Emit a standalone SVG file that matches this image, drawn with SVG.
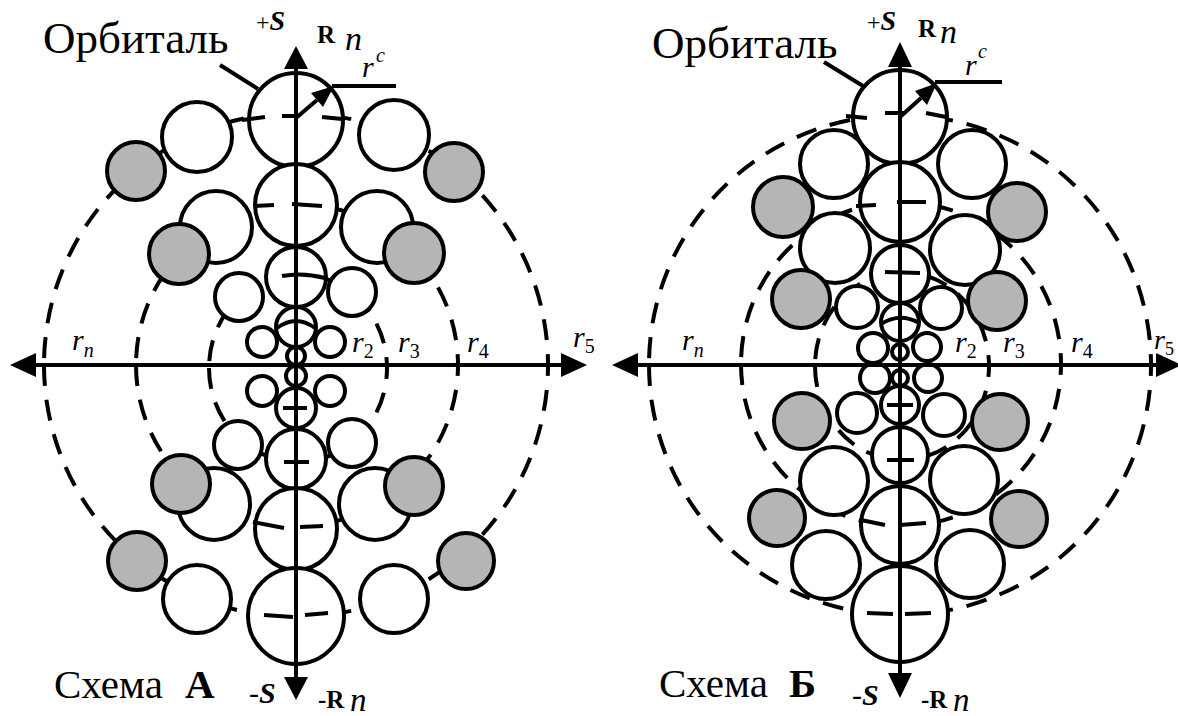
<svg xmlns="http://www.w3.org/2000/svg" width="1178" height="716" viewBox="0 0 1178 716">
<style>
.bg{fill:#fff}
.o{fill:#fff;stroke:#000;stroke-width:4}
.g{fill:#b5b5b5;stroke:#000;stroke-width:4}
.d{fill:none;stroke:#000;stroke-width:4;stroke-dasharray:21 14}
.dc{stroke-dashoffset:10}
.dl{stroke-dashoffset:28}
.eq{fill:none;stroke:#000;stroke-width:4}
.ax{stroke:#000;stroke-width:4;fill:none}
.ah{fill:#000}
.it{font-style:italic}
.b{font-weight:bold}
</style>
<rect class="bg" x="0" y="0" width="1178" height="716"/>

<g id="schemeA">
  <g id="A-orbits">
    <path class="d dc" d="M548,365 A252,252 0 0 0 296,113"/>
    <path class="d dc" d="M548,365 A252,252 0 0 1 296,617"/>
    <path class="d dl" d="M44,365 A252,252 0 0 1 296,113"/>
    <path class="d" d="M44,365 A252,252 0 0 0 296,617"/>
    <path class="d dc" d="M458,365 A161,161 0 0 0 297,204"/>
    <path class="d dc" d="M458,365 A161,161 0 0 1 297,526"/>
    <path class="d dl" d="M136,365 A161,161 0 0 1 297,204"/>
    <path class="d" d="M136,365 A161,161 0 0 0 297,526"/>
    <path class="d dc" d="M387,368 A89,94 0 0 0 298,274"/>
    <path class="d dc" d="M387,368 A89,94 0 0 1 298,462"/>
    <path class="d dl" d="M209,368 A89,94 0 0 1 298,274"/>
    <path class="d" d="M209,368 A89,94 0 0 0 298,462"/>
  </g>
  <g id="A-side-white">
    <circle class="o" cx="197" cy="137" r="35"/><circle class="o" cx="394" cy="135" r="35"/>
    <circle class="o" cx="216" cy="227" r="36"/><circle class="o" cx="377" cy="227" r="36"/>
    <circle class="o" cx="239" cy="297" r="24"/><circle class="o" cx="352" cy="292" r="24"/>
    <circle class="o" cx="262" cy="342" r="15"/><circle class="o" cx="330" cy="342" r="15"/>
    <circle class="o" cx="262" cy="391" r="15"/><circle class="o" cx="330" cy="391" r="15"/>
    <circle class="o" cx="238" cy="445" r="24"/><circle class="o" cx="352" cy="443" r="24"/>
    <circle class="o" cx="214" cy="504" r="36"/><circle class="o" cx="375" cy="504" r="36"/>
    <circle class="o" cx="197" cy="599" r="34"/><circle class="o" cx="394" cy="599" r="34"/>
  </g>
  <g id="A-side-grey">
    <circle class="g" cx="136" cy="171" r="29"/><circle class="g" cx="454" cy="172" r="29"/>
    <circle class="g" cx="179" cy="254" r="30"/><circle class="g" cx="414" cy="253" r="30"/>
    <circle class="g" cx="181" cy="484" r="29"/><circle class="g" cx="414" cy="486" r="29"/>
    <circle class="g" cx="137" cy="561" r="29"/><circle class="g" cx="466" cy="561" r="28"/>
  </g>
  <g id="A-central">
    <circle class="o" cx="296" cy="120" r="47"/>
    <circle class="o" cx="296" cy="205" r="41"/>
    <circle class="o" cx="296" cy="277" r="30"/>
    <circle class="o" cx="296" cy="327" r="20"/>
    <circle class="o" cx="296" cy="356" r="9"/>
    <circle class="o" cx="296" cy="376" r="10"/>
    <circle class="o" cx="296" cy="408" r="20"/>
    <circle class="o" cx="296" cy="459" r="30"/>
    <circle class="o" cx="296" cy="529" r="41"/>
    <circle class="o" cx="296" cy="616" r="48"/>
  </g>
  <g id="A-equators">
    <path class="eq" d="M242,120 L265,117 M282,116 L295,116 M322,117 L342,119"/>
    <path class="eq" d="M254,206 L274,205 M292,204 L322,206"/>
    <path class="eq" d="M282,276 Q303,272 325,278"/>
    <path class="eq" d="M277,328 Q296,314 315,328"/>
    <path class="eq" d="M283,408 L307,408"/>
    <path class="eq" d="M284,462 L309,462"/>
    <path class="eq" d="M253,522 L284,528 M300,527 L323,526"/>
    <path class="eq" d="M264,615 L293,617 M305,615 L328,613"/>
  </g>
  <g id="A-axes">
    <line class="ax" x1="34" y1="365" x2="563" y2="365"/>
    <polygon class="ah" points="10,365 36,353 36,377"/>
    <polygon class="ah" points="587,365 561,353 561,377"/>
    <line class="ax" x1="296" y1="66" x2="296" y2="680"/>
    <polygon class="ah" points="296,46 284,69 308,69"/>
    <polygon class="ah" points="296,700 284,677 308,677"/>
    <line class="ax" x1="296" y1="118" x2="317" y2="100"/>
    <polygon class="ah" points="334,86 323,107 311,93"/>
    <line class="ax" x1="332" y1="86" x2="396" y2="86"/>
    <line class="ax" x1="220" y1="65" x2="258" y2="89"/>
  </g>
  <g id="A-labels" font-family="Liberation Serif, DejaVu Serif, serif" fill="#000">
    <text x="43" y="53" font-size="45">Орбиталь</text>
    <text x="256" y="30" font-size="24">+<tspan class="b it" font-size="28">S</tspan></text>
    <text class="b" x="317" y="43" font-size="25">R</text>
    <text class="it" x="345" y="50" font-size="34">n</text>
    <text class="it" x="362" y="77" font-size="30">r</text>
    <text class="it" x="376" y="62" font-size="20">c</text>
    <text class="it" x="72" y="350" font-size="30">r<tspan font-size="20" dy="7">n</tspan></text>
    <text class="it" x="352" y="352" font-size="30">r<tspan font-style="normal" font-size="20" dy="6">2</tspan></text>
    <text class="it" x="398" y="352" font-size="30">r<tspan font-style="normal" font-size="20" dy="6">3</tspan></text>
    <text class="it" x="467" y="352" font-size="30">r<tspan font-style="normal" font-size="20" dy="6">4</tspan></text>
    <text class="it" x="573" y="347" font-size="30">r<tspan font-style="normal" font-size="20" dy="6">5</tspan></text>
    <text x="54" y="698" font-size="41">Схема <tspan class="b" x="185">А</tspan></text>
    <text x="249" y="703" font-size="30">-<tspan class="b it">S</tspan></text>
    <text class="b" x="318" y="708" font-size="25">-R</text>
    <text class="it" x="350" y="711" font-size="33">n</text>
  </g>
</g>

<g id="schemeB">
  <g id="B-orbits">
    <path class="d dc" d="M1151,365 A251,250 0 0 0 900,115"/>
    <path class="d dc" d="M1151,365 A251,250 0 0 1 900,615"/>
    <path class="d dl" d="M649,365 A251,250 0 0 1 900,115"/>
    <path class="d" d="M649,365 A251,250 0 0 0 900,615"/>
    <path class="d dc" d="M1061,364 A160,162 0 0 0 901,202"/>
    <path class="d dc" d="M1061,364 A160,162 0 0 1 901,526"/>
    <path class="d dl" d="M741,364 A160,162 0 0 1 901,202"/>
    <path class="d" d="M741,364 A160,162 0 0 0 901,526"/>
    <path class="d dc" d="M989,366 A87,94 0 0 0 902,272"/>
    <path class="d dc" d="M989,366 A87,94 0 0 1 902,460"/>
    <path class="d dl" d="M815,366 A87,94 0 0 1 902,272"/>
    <path class="d" d="M815,366 A87,94 0 0 0 902,460"/>
  </g>
  <g id="B-side-white">
    <circle class="o" cx="834" cy="164" r="34"/><circle class="o" cx="972" cy="164" r="34"/>
    <circle class="o" cx="835" cy="248" r="35"/><circle class="o" cx="965" cy="250" r="35"/>
    <circle class="o" cx="857" cy="307" r="21"/><circle class="o" cx="941" cy="308" r="21"/>
    <circle class="o" cx="873" cy="348" r="15"/><circle class="o" cx="927" cy="347" r="14"/>
    <circle class="o" cx="875" cy="378" r="15"/><circle class="o" cx="928" cy="378" r="14"/>
    <circle class="o" cx="857" cy="413" r="20"/><circle class="o" cx="944" cy="415" r="21"/>
    <circle class="o" cx="834" cy="481" r="34"/><circle class="o" cx="964" cy="480" r="34"/>
    <circle class="o" cx="826" cy="565" r="34"/><circle class="o" cx="970" cy="564" r="34"/>
  </g>
  <g id="B-side-grey">
    <circle class="g" cx="783" cy="207" r="30"/><circle class="g" cx="1017" cy="212" r="29"/>
    <circle class="g" cx="801" cy="299" r="29"/><circle class="g" cx="997" cy="301" r="29"/>
    <circle class="g" cx="802" cy="421" r="28"/><circle class="g" cx="1000" cy="422" r="28"/>
    <circle class="g" cx="777" cy="518" r="28"/><circle class="g" cx="1019" cy="519" r="28"/>
  </g>
  <g id="B-central">
    <circle class="o" cx="900" cy="117" r="47"/>
    <circle class="o" cx="900" cy="202" r="40"/>
    <circle class="o" cx="900" cy="274" r="29"/>
    <circle class="o" cx="900" cy="322" r="19"/>
    <circle class="o" cx="900" cy="352" r="8"/>
    <circle class="o" cx="900" cy="378" r="8"/>
    <circle class="o" cx="900" cy="405" r="19"/>
    <circle class="o" cx="900" cy="455" r="28"/>
    <circle class="o" cx="900" cy="525" r="39"/>
    <circle class="o" cx="900" cy="614" r="48"/>
  </g>
  <g id="B-equators">
    <path class="eq" d="M846,116 L867,118 M885,113 L904,113 M926,113 L946,117"/>
    <path class="eq" d="M856,206 L876,205 M897,202 L926,202"/>
    <path class="eq" d="M885,272 L920,273"/>
    <path class="eq" d="M881,324 Q900,312 919,323"/>
    <path class="eq" d="M887,405 L913,405"/>
    <path class="eq" d="M887,460 L914,460"/>
    <path class="eq" d="M861,520 L885,525 M900,525 L926,523"/>
    <path class="eq" d="M867,613 L893,614 M905,614 L931,613"/>
  </g>
  <g id="B-axes">
    <line class="ax" x1="636" y1="365" x2="1160" y2="365"/>
    <polygon class="ah" points="612,365 638,353 638,377"/>
    <polygon class="ah" points="1182,365 1156,353 1156,377"/>
    <line class="ax" x1="900" y1="64" x2="900" y2="676"/>
    <polygon class="ah" points="900,42 888,67 912,67"/>
    <polygon class="ah" points="900,698 888,673 912,673"/>
    <line class="ax" x1="900" y1="117" x2="921" y2="98"/>
    <polygon class="ah" points="937,83 927,105 915,91"/>
    <line class="ax" x1="935" y1="82" x2="1002" y2="82"/>
    <line class="ax" x1="824" y1="62" x2="863" y2="86"/>
  </g>
  <g id="B-labels" font-family="Liberation Serif, DejaVu Serif, serif" fill="#000">
    <text x="652" y="58" font-size="45">Орбиталь</text>
    <text x="867" y="30" font-size="24">+<tspan class="b it" font-size="28">S</tspan></text>
    <text class="b" x="918" y="37" font-size="25">R</text>
    <text class="it" x="940" y="43" font-size="34">n</text>
    <text class="it" x="965" y="75" font-size="30">r</text>
    <text class="it" x="978" y="58" font-size="20">c</text>
    <text class="it" x="682" y="350" font-size="30">r<tspan font-size="20" dy="7">n</tspan></text>
    <text class="it" x="955" y="352" font-size="30">r<tspan font-style="normal" font-size="20" dy="6">2</tspan></text>
    <text class="it" x="1003" y="352" font-size="30">r<tspan font-style="normal" font-size="20" dy="6">3</tspan></text>
    <text class="it" x="1071" y="352" font-size="30">r<tspan font-style="normal" font-size="20" dy="6">4</tspan></text>
    <text class="it" x="1154" y="349" font-size="28">r<tspan font-style="normal" font-size="18" dy="6">5</tspan></text>
    <text x="659" y="697" font-size="41">Схема <tspan class="b" x="789">Б</tspan></text>
    <text x="852" y="705" font-size="30">-<tspan class="b it">S</tspan></text>
    <text class="b" x="921" y="708" font-size="25">-R</text>
    <text class="it" x="953" y="711" font-size="33">n</text>
  </g>
</g>
</svg>
